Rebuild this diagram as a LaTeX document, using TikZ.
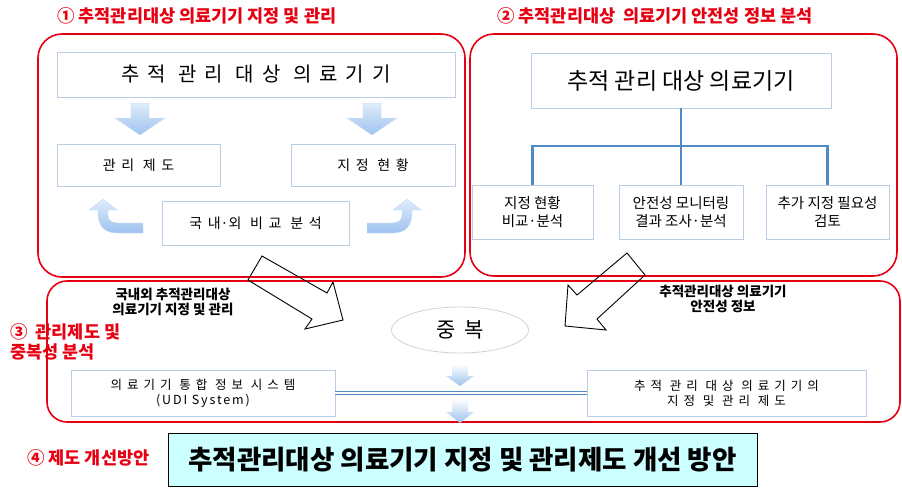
\documentclass[tikz,border=0pt]{standalone}
\usepackage{fontspec}
\setmainfont{Noto Sans CJK KR}
\newfontfamily\krwide{Noto Sans CJK KR}[LetterSpace=40]
\usetikzlibrary{shapes.geometric}
\definecolor{framered}{RGB}{230,0,18}
\definecolor{boxline}{RGB}{185,205,229}
\definecolor{treeblue}{RGB}{79,139,200}
\definecolor{arrowtop}{RGB}{224,236,250}
\definecolor{arrowbot}{RGB}{158,194,238}
\definecolor{finalfill}{RGB}{204,255,255}

\begin{document}
\begin{tikzpicture}
		[x=1pt,y=-1pt,line join=miter,
		%Styles
		frame/.style={draw=framered,line width=1.6pt,rounded corners=24pt},
		title text/.style={text=framered,font=\bfseries\fontsize{17.5}{20}\selectfont,inner sep=0pt,align=left},
		plain box/.style={draw=boxline,fill=white,inner sep=0pt,align=center,line width=0.8pt},
		tree line/.style={draw=treeblue,line width=2.4pt},
		light arrow/.style={top color=arrowtop,bottom color=arrowbot,draw=arrowbot!60!white,line width=0.4pt},
		open arrow/.style={draw=black,line width=0.9pt},
		small label/.style={font=\bfseries\fontsize{13.5}{15.5}\selectfont,align=center,inner sep=0pt}
		]
		\useasboundingbox (0,0) rectangle (902,498);
		
		%Frames
		\draw[frame] (38,34) rectangle (465,277);
		\draw[frame] (470,34) rectangle (897,276);
		\draw[frame,rounded corners=20pt] (47,281) rectangle (900,422);
		
		%Titles
		\node[title text,anchor=west] (t1) at (57,16) {① 추적관리대상 의료기기 지정 및 관리};
		\node[title text,anchor=west] (t2) at (497,16) {② 추적관리대상~ 의료기기 안전성 정보 분석};
		\node[title text,anchor=north west] (t3) at (10,323) {③~ 관리제도 및\\중복성 분석};
		\node[title text,anchor=west] (t4) at (27,458) {④ 제도 개선방안};
		
		%Part 1
		\node[plain box,minimum width=398,minimum height=45,font={\krwide\fontsize{20}{24}\selectfont}] (h1) at (256,74.5) {추적 관리 대상 의료기기};
		\node[plain box,minimum width=163,minimum height=42,font={\krwide\fontsize{14}{17}\selectfont}] (law) at (138.5,165) {관리 제도};
		\node[plain box,minimum width=164,minimum height=42,font={\krwide\fontsize{14}{17}\selectfont}] (stat) at (373,165) {지정 현황};
		\node[plain box,minimum width=187,minimum height=44,font={\krwide\fontsize{14}{17}\selectfont}] (comp) at (255.5,223) {국내{\addfontfeature{LetterSpace=0}·}외 비교 분석};
		
		\foreach \cx in {140,372}
			\path[light arrow] (\cx-9,103) -- (\cx+9,103) -- (\cx+9,118) -- (\cx+25,118) -- (\cx,135) -- (\cx-25,118) -- (\cx-9,118) -- cycle;
		
		\path[light arrow] (143,223) -- (143,233) -- (118,233) .. controls (104,233) and (98,226) .. (98,212) -- (98,210) -- (89,210) -- (103,199) -- (117,210) -- (108,210) -- (108,215) .. controls (108,220) and (111,223) .. (118,223) -- cycle;
		\begin{scope}[shift={(510,0)},xscale=-1]
			\path[light arrow] (143,223) -- (143,233) -- (118,233) .. controls (104,233) and (98,226) .. (98,212) -- (98,210) -- (89,210) -- (103,199) -- (117,210) -- (108,210) -- (108,215) .. controls (108,220) and (111,223) .. (118,223) -- cycle;
		\end{scope}
		
		%Part 2
		\node[plain box,minimum width=300,minimum height=55,font=\fontsize{23}{27}\selectfont] (h2) at (681,80.5) {추적 관리 대상 의료기기};
		\node[plain box,minimum width=121,minimum height=54,font=\fontsize{14.5}{18}\selectfont] (c1) at (532.5,212) {지정 현황\\비교·분석};
		\node[plain box,minimum width=124,minimum height=54,font=\fontsize{14.5}{18}\selectfont] (c2) at (681,212) {안전성 모니터링\\결과 조사·분석};
		\node[plain box,minimum width=123,minimum height=54,font=\fontsize{14.5}{18}\selectfont] (c3) at (827.5,212) {추가 지정 필요성\\검토};
		\coordinate (fork) at (681,146);
		
		\draw[tree line] (h2.south) -- (fork);
		\draw[tree line] (fork) -| (c1.north);
		\draw[tree line] (fork) -- (c2.north);
		\draw[tree line] (fork) -| (c3.north);
		
		%Part 3
		\node[small label] (lab1) at (173,302) {국내외 추적관리대상\\의료기기 지정 및 관리};
		\node[small label] (lab2) at (723,299) {추적관리대상 의료기기\\안전성 정보};
		\node[ellipse,draw=gray!35,fill=white,line width=0.8pt,minimum width=137,minimum height=46,inner sep=0pt,font={\krwide\fontsize{21}{24}\selectfont}] (dup) at (460,330) {중복};
		\node[plain box,minimum width=264,minimum height=46,font={\krwide\fontsize{12.5}{15}\selectfont}] (udi) at (203,393) {의료기기 통합 정보 시스템\\{\addfontfeature{LetterSpace=15}(UDI System)}};
		\node[plain box,minimum width=279,minimum height=46,font={\krwide\fontsize{12.5}{15}\selectfont}] (reg) at (726.5,393) {추적 관리 대상 의료기기의\\지정 및 관리 제도};
		
		\path[light arrow,top color=white,draw=none] (452,364) -- (468,364) -- (468,376) -- (474,376) -- (460,386) -- (446,376) -- (452,376) -- cycle;
		\path[light arrow,top color=white,draw=none] (452,399) -- (468,399) -- (468,412) -- (474,412) -- (460,423) -- (446,412) -- (452,412) -- cycle;
		\draw[draw=treeblue,double=white,double distance=1.6pt,line width=0.9pt] (udi.east) -- (reg.west);
		
		\draw[open arrow] (262,256) -- (327,293) -- (333,282) -- (343,320) -- (305,329) -- (312,319) -- (248,280) -- cycle;
		\draw[open arrow] (627,253) -- (577,295) -- (568,285) -- (565,326) -- (606,330) -- (597,319) -- (645,275) -- cycle;
		
		%Part 4
		\node[draw=black,fill=finalfill,line width=1pt,inner sep=0pt,minimum width=589,minimum height=53,font=\bfseries\fontsize{26.5}{30}\selectfont] (plan) at (462.5,459.5) {추적관리대상 의료기기 지정 및 관리제도 개선 방안};
	\end{tikzpicture}
\end{document}
